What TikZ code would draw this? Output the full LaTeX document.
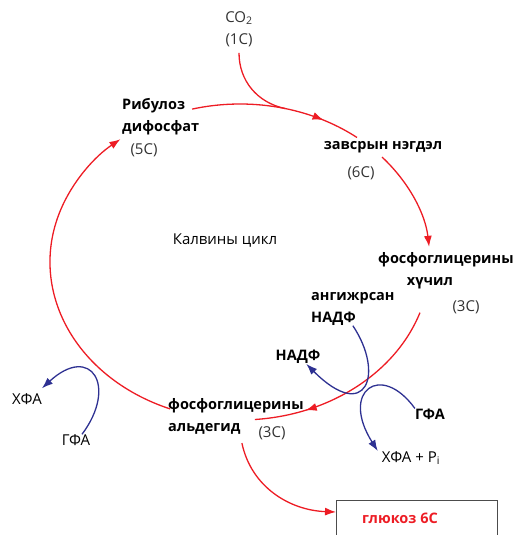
\documentclass[tikz,border=0pt]{standalone}
\usepackage{fontspec}
\setmainfont{Open Sans}
\usetikzlibrary{arrows.meta,decorations.markings}
\definecolor{cycred}{RGB}{237,28,36}
\definecolor{cycblue}{RGB}{46,49,146}
\definecolor{cgray}{RGB}{50,50,50}
\tikzset{
  lbl/.style={inner sep=0pt, font=\fontsize{15}{22}\selectfont},
  blbl/.style={inner sep=0pt, font=\fontsize{14.5}{22}\selectfont\bfseries},
  glbl/.style={lbl, text=cgray},
  redline/.style={draw=cycred, line width=1.3pt},
  blueline/.style={draw=cycblue, line width=1.3pt},
  tip/.style={-{Latex[length=11pt,width=8pt]}},
  midtip/.style={postaction={decorate}, decoration={markings,
    mark=at position #1 with {\arrow{Latex[length=11pt,width=8pt]}}}},
}
\begin{document}
\begin{tikzpicture}[x=1pt,y=1pt]
  \useasboundingbox (0,0) rectangle (516,535);

  \node[glbl, align=center] (co2) at (239,506) {CO\textsubscript{2}\\(1C)};
  \node[blbl, align=left, anchor=west] (rib) at (122,418) {Рибулоз\\дифосфат};
  \node[glbl] (rib5) at (144,385) {(5C)};
  \node[blbl] (zav) at (383,388) {завсрын нэгдэл};
  \node[glbl] (zav6) at (361,362) {(6C)};
  \node[blbl, anchor=west] (fga) at (378,275) {фосфоглицерины};
  \node[blbl] (fgab) at (430,252) {хүчил};
  \node[glbl] (fga3) at (466,228) {(3C)};
  \node[lbl] (calvin) at (225,294) {Калвины цикл};
  \node[blbl, align=left, anchor=west] (angnadf) at (311,226) {ангижрсан\\НАДФ};
  \node[blbl] (nadf) at (298,178) {НАДФ};
  \node[blbl] (gfar) at (430,121) {ГФА};
  \node[lbl] (hfapi) at (411,77) {ХФА + P\textsubscript{i}};
  \node[blbl, align=left, anchor=west] (fgald) at (168,119) {фосфоглицерины\\альдегид};
  \node[glbl] (fgald3) at (272,102) {(3C)};
  \node[lbl] (hfal) at (27,136) {ХФА};
  \node[lbl] (gfal) at (76,95) {ГФА};
  \node[draw=black!70, line width=0.9pt, anchor=north west,
        minimum width=161pt, minimum height=50pt] (box) at (336,35) {};
  \node[blbl, text=cycred] (glu) at (400,17) {глюкоз 6C};

  \coordinate (cyc) at (240,273);
  \path (cyc) ++(104.6:190 and 158) coordinate (c1)
        (cyc) ++(76.3:190 and 158) coordinate (cin)
        (cyc) ++(41.6:190 and 158) coordinate (c2)
        (cyc) ++(-18.7:190 and 158) coordinate (c3)
        (cyc) ++(248.4:190 and 158) coordinate (c4);

  \draw[redline, midtip=0.78] (c1) arc[start angle=104.6, end angle=52, x radius=190, y radius=158];
  \draw[redline, tip] (c2) arc[start angle=41.6, end angle=5.5, x radius=190, y radius=158];
  \draw[redline, midtip=0.75] (c3) arc[start angle=-18.7, end angle=-85.5, x radius=190, y radius=158];
  \draw[redline, tip] (c4) arc[start angle=248.4, end angle=129, x radius=190, y radius=158];

  \draw[redline] ([yshift=-6pt]co2.south) to[out=-90, in=168] (cin);
  \draw[redline, tip] ([xshift=6pt,yshift=-9pt]fgald.south) to[out=-78, in=178] ([yshift=-12pt]box.north west);

  \draw[blueline, tip] (angnadf.south) .. controls +(32,-48) and +(60,-60) .. (nadf.-40);
  \draw[blueline, tip] (gfar.north west) .. controls +(-34,47) and +(-38,60) .. ([xshift=-4pt]hfapi.north west);
  \draw[blueline, tip] ([xshift=6pt]gfal.north) .. controls +(36,48) and +(49,45) .. ([yshift=5pt]hfal.north east);
\end{tikzpicture}
\end{document}
